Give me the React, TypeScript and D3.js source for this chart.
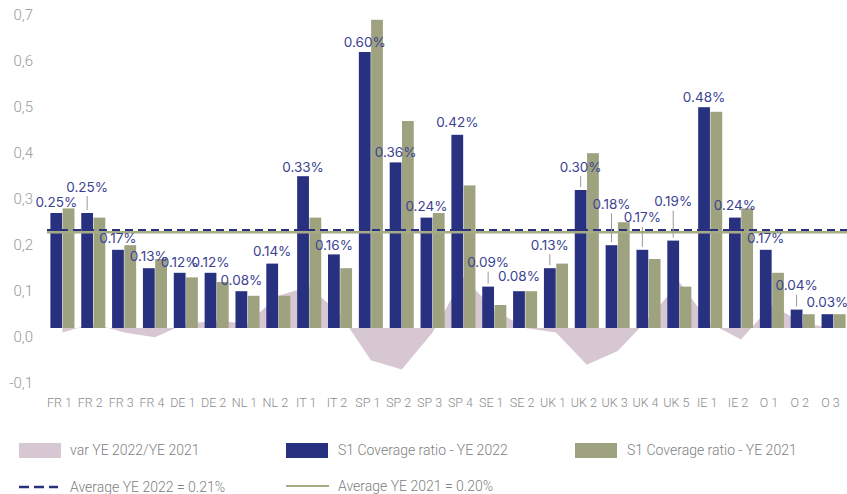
import React from 'react';
import * as d3 from 'd3';

const categories = ['FR 1', 'FR 2', 'FR 3', 'FR 4', 'DE 1', 'DE 2', 'NL 1', 'NL 2', 'IT 1', 'IT 2', 'SP 1', 'SP 2', 'SP 3', 'SP 4', 'SE 1', 'SE 2', 'UK 1', 'UK 2', 'UK 3', 'UK 4', 'UK 5', 'IE 1', 'IE 2', 'O 1', 'O 2', 'O 3'];
const ye2022 = [0.25, 0.25, 0.17, 0.13, 0.12, 0.12, 0.08, 0.14, 0.33, 0.16, 0.60, 0.36, 0.24, 0.42, 0.09, 0.08, 0.13, 0.30, 0.18, 0.17, 0.19, 0.48, 0.24, 0.17, 0.04, 0.03];
const ye2021 = [0.26, 0.24, 0.18, 0.15, 0.11, 0.10, 0.07, 0.07, 0.24, 0.13, 0.67, 0.45, 0.25, 0.31, 0.05, 0.08, 0.14, 0.38, 0.23, 0.15, 0.09, 0.47, 0.26, 0.12, 0.03, 0.03];
const variation = [-0.01, 0.01, -0.01, -0.02, 0.01, 0.015, 0.01, 0.07, 0.09, 0.03, -0.07, -0.09, -0.01, 0.11, 0.04, 0.0, -0.01, -0.08, -0.05, 0.02, 0.10, 0.01, -0.025, 0.05, 0.01, 0.0];
const avg2022 = 0.213;
const avg2021 = 0.208;
const yTicks = [-0.1, 0, 0.1, 0.2, 0.3, 0.4, 0.5, 0.6, 0.7];

// how far each data label sits above its bar (labels with a leader line sit higher)
const labelLift = [10, 25, 10, 11, 9, 9, 10, 11, 8, 8, 9, 9, 10, 11, 23, 14, 22, 22, 40, 31, 38, 9, 11, 10, 23, 11];

const W = 847;
const H = 494;
const BLUE = '#283180';
const GREEN = '#9ea27f';
const PINK = '#d6c7d2';
const LABEL = '#3b4392';
const GREY = '#999';

export default function App() {
  const x = d3.scaleBand<string>().domain(categories).range([47, 849]).paddingInner(0.22).paddingOuter(0.11);
  const sub = d3.scaleBand<string>().domain(['y22', 'y21']).range([0, x.bandwidth()]).paddingInner(0.04);
  const y = d3.scaleLinear().domain([-0.1, 0.7]).range([374, 6]);
  const cx = (c: string) => (x(c) ?? 0) + x.bandwidth() / 2;

  const area = d3.area<number>()
    .x((_, i) => cx(categories[i]))
    .y0(y(0))
    .y1((d) => y(d));

  const fmt = (v: number) => v.toFixed(1).replace('.', ',');

  return (
    <svg width={W} height={H} style={{ position: 'absolute', left: 0, top: 0, background: '#fff' }}>
      <path d={area(variation) ?? ''} fill={PINK} />

      {yTicks.map((t) => (
        <text key={t} x={33} y={y(t) + 10} textAnchor="end" dominantBaseline="middle"
          fontFamily="Roboto" fontWeight={300} fontSize={15} fill={GREY}>{fmt(t)}</text>
      ))}

      {categories.map((c, i) => (
        <g key={c}>
          <rect x={(x(c) ?? 0) + (sub('y22') ?? 0)} y={y(ye2022[i])} width={sub.bandwidth()}
            height={y(0) - y(ye2022[i])} fill={BLUE} />
          <rect x={(x(c) ?? 0) + (sub('y21') ?? 0)} y={y(ye2021[i])} width={sub.bandwidth()}
            height={y(0) - y(ye2021[i])} fill={GREEN} />
          <text x={cx(c) - 3} y={404} textAnchor="middle" dominantBaseline="middle"
            fontFamily="Roboto" fontWeight={300} fontSize={12.5} fill="#8a8a8a">{c}</text>
        </g>
      ))}

      <line x1={47} x2={W} y1={y(avg2021)} y2={y(avg2021)} stroke="#a6aa85" strokeWidth={2.5} />
      <line x1={47} x2={W} y1={y(avg2022)} y2={y(avg2022)} stroke={BLUE} strokeWidth={2} strokeDasharray="8,5" />

      {categories.map((c, i) => {
        const lx = (x(c) ?? 0) + (sub('y22') ?? 0) + sub.bandwidth() / 2;
        const top = y(ye2022[i]);
        const ly = top - labelLift[i];
        return (
          <g key={'l' + c}>
            {labelLift[i] > 18 && (
              <line x1={lx} x2={lx} y1={ly + 8} y2={top - 3} stroke={GREY} strokeWidth={1} />
            )}
            <text x={lx} y={ly} textAnchor="middle" dominantBaseline="middle"
              fontFamily="Inter" fontSize={13.5} fill={LABEL}>{(ye2022[i]).toFixed(2) + '%'}</text>
          </g>
        );
      })}

      <g fontFamily="Roboto" fontWeight={300} fontSize={14} fill="#808080">
        <rect x={19} y={443} width={42} height={15} fill={PINK} />
        <text x={70} y={451} dominantBaseline="middle">var YE 2022/YE 2021</text>
        <rect x={286} y={443} width={42} height={15} fill={BLUE} />
        <text x={338} y={451} dominantBaseline="middle">S1 Coverage ratio - YE 2022</text>
        <rect x={575} y={443} width={42} height={15} fill={GREEN} />
        <text x={627} y={451} dominantBaseline="middle">S1 Coverage ratio - YE 2021</text>
        <line x1={19} x2={58} y1={487} y2={487} stroke={BLUE} strokeWidth={2.5} strokeDasharray="10,5" />
        <text x={70} y={488} dominantBaseline="middle">Average YE 2022 = 0.21%</text>
        <line x1={286} x2={329} y1={486} y2={486} stroke="#a6aa85" strokeWidth={2} />
        <text x={338} y={487} dominantBaseline="middle">Average YE 2021 = 0.20%</text>
      </g>
    </svg>
  );
}
